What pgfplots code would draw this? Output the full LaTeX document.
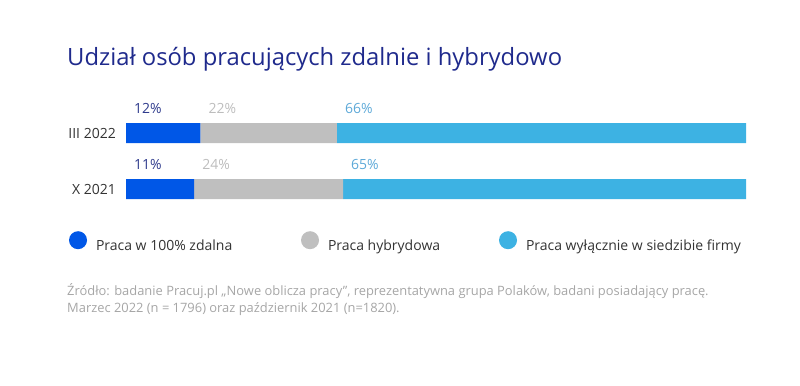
\documentclass[border=0pt]{standalone}
\usepackage{fontspec}
\setmainfont{Open Sans}
\usepackage{pgfplots}
\pgfplotsset{compat=1.18}
\definecolor{titleblue}{HTML}{1F2A8C}
\definecolor{cblue}{HTML}{0057E7}
\definecolor{cgrey}{HTML}{BFBFBF}
\definecolor{clight}{HTML}{3DB2E3}
\definecolor{lnavy}{HTML}{2E3A8C}
\definecolor{lgrey}{HTML}{BDBDBD}
\definecolor{llight}{HTML}{5DA9D8}
\definecolor{textdark}{HTML}{333333}
\definecolor{srcgrey}{HTML}{A6A6A6}
\begin{document}
\begin{tikzpicture}[x=1bp,y=1bp]
\path[use as bounding box] (0,0) rectangle (800,385);
\node[anchor=base west, text=titleblue, font=\fontsize{23.8bp}{28bp}\selectfont, inner sep=0pt] at (67,320) {Udział osób pracujących zdalnie i hybrydowo};
\begin{axis}[
  at={(126bp,168bp)}, anchor=south west,
  scale only axis, width=620bp, height=112bp,
  xmin=0, xmax=100, ymin=-0.5, ymax=1.5,
  xbar stacked, bar width=20bp,
  axis line style={draw=none},
  xtick=\empty, ytick={0,1}, yticklabels={X 2021,III 2022},
  major tick length=0pt,
  yticklabel style={inner sep=0pt, xshift=-10bp, text=textdark, font=\fontsize{14bp}{17bp}\selectfont},
  legend columns=3,
  legend cell align=left,
  legend style={at={(axis description cs:-0.0919,-0.21875)}, anchor=west, draw=none, fill=none,
    inner sep=0pt, outer sep=0pt, column sep=0pt,
    nodes={inner sep=0pt},
    /tikz/every odd column/.append style={column sep=9bp},
    font=\fontsize{14bp}{17bp}\selectfont, text=textdark},
  clip=false,
]
\addplot[fill=cblue, draw=none, legend image code/.code={\fill[cblue] (9bp,5.5bp) circle (9bp);}] coordinates {(11,0) (12,1)};
\addlegendentry{\makebox[205bp][l]{Praca w 100\% zdalna}}
\addplot[fill=cgrey, draw=none, legend image code/.code={\fill[cgrey] (9bp,5.5bp) circle (9bp);}] coordinates {(24,0) (22,1)};
\addlegendentry{\makebox[171bp][l]{Praca hybrydowa}}
\addplot[fill=clight, draw=none, legend image code/.code={\fill[clight] (9bp,5.5bp) circle (9bp);}] coordinates {(65,0) (66,1)};
\addlegendentry{Praca wyłącznie w siedzibie firmy}
\end{axis}
\begin{axis}[
  at={(126bp,168bp)}, anchor=south west,
  scale only axis, width=620bp, height=112bp,
  xmin=0, xmax=100, ymin=-0.5, ymax=1.5,
  hide axis, clip=false,
  nodes near coords, point meta=explicit symbolic,
  every node near coord/.append style={anchor=base west, xshift=8bp, inner sep=0pt, font=\fontsize{14bp}{17bp}\selectfont},
]
\addplot[draw=none, every node near coord/.append style={text=lnavy}] coordinates {(0,1.34) [12\%] (0,0.34) [11\%]};
\addplot[draw=none, every node near coord/.append style={text=lgrey}] coordinates {(12,1.34) [22\%] (11,0.34) [24\%]};
\addplot[draw=none, every node near coord/.append style={text=llight}] coordinates {(34,1.34) [66\%] (35,0.34) [65\%]};
\end{axis}
\node[anchor=base west, align=left, text=srcgrey, font=\fontsize{12.9bp}{17bp}\selectfont, inner sep=0pt] at (67,73) {Źródło: badanie Pracuj.pl „Nowe oblicza pracy”, reprezentatywna grupa Polaków, badani posiadający pracę.\\Marzec 2022 (n = 1796) oraz październik 2021 (n=1820).};
\end{tikzpicture}
\end{document}
